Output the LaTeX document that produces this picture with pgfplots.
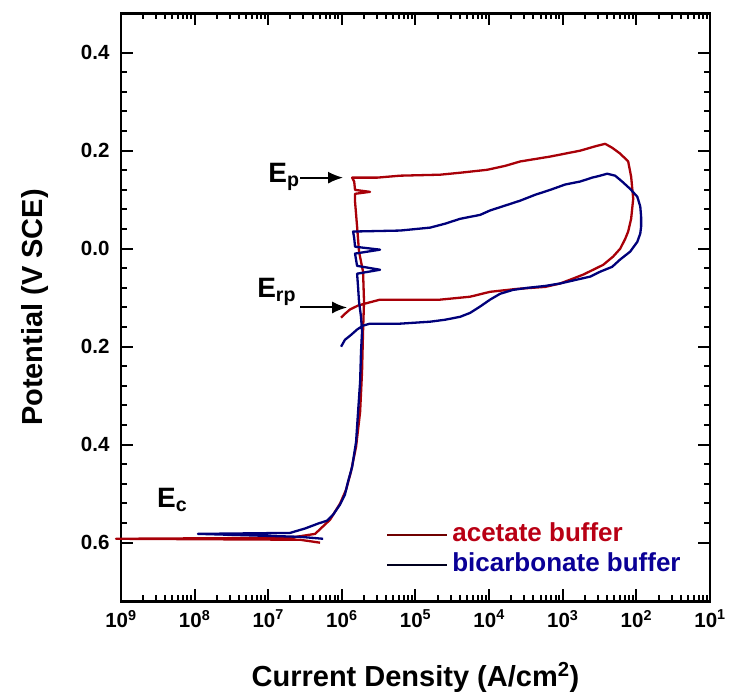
\documentclass[border=0pt]{standalone}
\usepackage{pgfplots}
\pgfplotsset{compat=1.18}
\usetikzlibrary{arrows.meta}
\usepackage{fontspec}
\setmainfont{Liberation Sans}

\definecolor{acetate}{RGB}{168,0,8}
\definecolor{acetatetext}{RGB}{185,0,20}
\definecolor{acetatekey}{RGB}{112,0,0}
\definecolor{bicarb}{RGB}{0,0,122}
\definecolor{bicarbtext}{RGB}{10,0,150}
\definecolor{bicarbkey}{RGB}{0,0,30}

\begin{document}
\begin{tikzpicture}
\begin{axis}[
  at={(0pt,0pt)}, anchor=south west,
  scale only axis, width=589pt, height=588pt,
  xmode=log, xmin=1e-9, xmax=1e-1,
  ymin=-0.72, ymax=0.48,
  xtick={1e-9,1e-8,1e-7,1e-6,1e-5,1e-4,1e-3,1e-2,1e-1},
  xticklabels={10\textsuperscript{9},10\textsuperscript{8},10\textsuperscript{7},10\textsuperscript{6},10\textsuperscript{5},10\textsuperscript{4},10\textsuperscript{3},10\textsuperscript{2},10\textsuperscript{1}},
  ytick={-0.6,-0.4,-0.2,0,0.2,0.4},
  yticklabels={0.6,0.4,0.2,0.0,0.2,0.4},
  minor y tick num=4,
  tick align=inside,
  major tick length=12pt, minor tick length=6pt,
  major tick style={line width=2pt, black},
  minor tick style={line width=2pt, black},
  axis line style={line width=2.6pt},
  tick label style={font=\fontsize{20.5}{24}\selectfont\bfseries},
  yticklabel style={xshift=-8pt},
  xticklabel style={yshift=-5pt},
  xlabel={Current Density (A/cm\textsuperscript{2})},
  ylabel={Potential (V SCE)},
  label style={font=\fontsize{29}{33}\selectfont\bfseries},
  xlabel style={at={(axis description cs:0.5,-0.1437)}, anchor=base},
  ylabel style={at={(axis description cs:-0.1341,0.5)}, anchor=base, rotate=0},
  legend style={at={(axis description cs:0.4500,0.1340)}, anchor=north west,
    draw=none, fill=none, inner sep=0pt, outer sep=0pt,
    font=\fontsize{26}{30}\selectfont\bfseries,
    nodes={inner sep=1pt, text height=18pt, text depth=5pt},
    row sep=5pt, column sep=3pt},
  legend cell align=left,
  legend image code/.code={\draw[#1] (0pt,0pt) -- (60pt,0pt);},
  clip=false,
]

% acetate buffer: cathodic end, E_corr spike, passive branch, pitting, reverse scan
\addplot[color=acetate, line width=2.3pt, line join=round, forget plot] coordinates {
  (5.06e-7,-0.600) (2.70e-7,-0.594) (8.55e-10,-0.592) (1.98e-7,-0.590)
  (4.33e-7,-0.582) (6.92e-7,-0.553) (9.46e-7,-0.520) (1.14e-6,-0.492)
  (1.33e-6,-0.455) (1.56e-6,-0.404) (1.77e-6,-0.333) (1.88e-6,-0.251)
  (1.94e-6,-0.169) (2.00e-6,-0.108) (1.94e-6,-0.047) (1.71e-6,-0.006)
  (1.61e-6,0.045) (1.51e-6,0.096) (1.51e-6,0.112) (2.41e-6,0.116)
  (1.51e-6,0.120) (1.47e-6,0.137) (1.38e-6,0.145)
  (3.01e-6,0.145) (6.18e-6,0.149) (2.16e-5,0.151) (4.04e-5,0.155)
  (9.40e-5,0.161) (1.65e-4,0.169) (2.64e-4,0.178) (6.75e-4,0.188)
  (1.72e-3,0.200) (2.93e-3,0.210) (3.77e-3,0.214) (4.69e-3,0.206)
  (6.03e-3,0.194) (7.74e-3,0.178) (8.49e-3,0.147) (9.06e-3,0.102)
  (8.49e-3,0.061) (7.74e-3,0.035) (7.05e-3,0.020) (6.03e-3,0.000)
  (4.84e-3,-0.016) (3.54e-3,-0.033) (2.59e-3,-0.043) (1.89e-3,-0.053)
  (1.38e-3,-0.061) (9.23e-4,-0.071) (5.77e-4,-0.078) (2.40e-4,-0.082)
  (1.03e-4,-0.088) (5.52e-5,-0.098) (2.16e-5,-0.104) (3.30e-6,-0.104)
  (2.07e-6,-0.112) (1.66e-6,-0.116) (1.29e-6,-0.124) (1.10e-6,-0.133)
  (9.75e-7,-0.141)
};

% bicarbonate buffer
\addplot[color=bicarb, line width=2.3pt, line join=round, forget plot] coordinates {
  (5.56e-7,-0.592) (2.70e-7,-0.588) (1.11e-8,-0.582) (1.98e-7,-0.580)
  (3.16e-7,-0.571) (4.75e-7,-0.561) (6.30e-7,-0.555) (7.59e-7,-0.543)
  (9.46e-7,-0.522) (1.10e-6,-0.502) (1.21e-6,-0.476) (1.38e-6,-0.445)
  (1.56e-6,-0.394) (1.66e-6,-0.333) (1.77e-6,-0.271) (1.82e-6,-0.210)
  (1.88e-6,-0.169) (1.82e-6,-0.139) (1.71e-6,-0.108) (1.66e-6,-0.078)
  (1.61e-6,-0.051) (3.30e-6,-0.043) (1.61e-6,-0.035) (1.51e-6,-0.010)
  (3.30e-6,-0.002) (1.51e-6,0.004) (1.47e-6,0.022) (1.42e-6,0.035)
  (6.18e-6,0.037) (1.58e-5,0.043) (2.52e-5,0.051) (4.04e-5,0.061)
  (7.55e-5,0.069) (1.03e-4,0.078) (1.65e-4,0.088) (2.64e-4,0.098)
  (4.22e-4,0.110) (6.75e-4,0.120) (1.08e-3,0.131) (1.72e-3,0.137)
  (2.51e-3,0.145) (3.22e-3,0.149) (4.01e-3,0.153) (5.15e-3,0.149)
  (6.41e-3,0.137) (8.24e-3,0.122) (1.03e-2,0.106) (1.13e-2,0.086)
  (1.16e-2,0.065) (1.16e-2,0.045) (1.13e-2,0.031) (1.03e-2,0.014)
  (8.24e-3,-0.006) (6.03e-3,-0.022) (4.69e-3,-0.037) (3.22e-3,-0.047)
  (2.36e-3,-0.057) (1.57e-3,-0.063) (9.23e-4,-0.071) (5.77e-4,-0.076)
  (3.28e-4,-0.080) (2.12e-4,-0.084) (1.41e-4,-0.092) (1.03e-4,-0.104)
  (7.55e-5,-0.118) (5.52e-5,-0.131) (4.04e-5,-0.139) (2.52e-5,-0.145)
  (1.58e-5,-0.149) (6.18e-6,-0.153) (2.41e-6,-0.153) (1.94e-6,-0.157)
  (1.61e-6,-0.165) (1.33e-6,-0.176) (1.10e-6,-0.186) (9.75e-7,-0.200)
};

\addlegendimage{color=acetatekey, line width=2.3pt}
\addlegendentry{\textcolor{acetatetext}{acetate buffer}}
\addlegendimage{color=bicarbkey, line width=2.3pt}
\addlegendentry{\textcolor{bicarbtext}{bicarbonate buffer}}

% potential markers
\draw[-{Latex[length=15pt,width=12pt]}, line width=2pt]
  (axis cs:2.70e-7,0.145) -- (axis cs:1.04e-6,0.145);
\draw[-{Latex[length=15pt,width=12pt]}, line width=2pt]
  (axis cs:2.70e-7,-0.120) -- (axis cs:1.18e-6,-0.120);
\node[anchor=base west, inner sep=0pt, font=\fontsize{28}{32}\selectfont\bfseries]
  at (axis cs:1e-7,0.135) {E\textsubscript{p}};
\node[anchor=base west, inner sep=0pt, font=\fontsize{28}{32}\selectfont\bfseries]
  at (axis cs:7.05e-8,-0.100) {E\textsubscript{rp}};
\node[anchor=base west, inner sep=0pt, font=\fontsize{28}{32}\selectfont\bfseries]
  at (axis cs:3.08e-9,-0.5286) {E\textsubscript{c}};
\end{axis}
\path[use as bounding box] (-121pt,-91.5pt) rectangle (609pt,601.5pt);
\end{tikzpicture}
\end{document}
